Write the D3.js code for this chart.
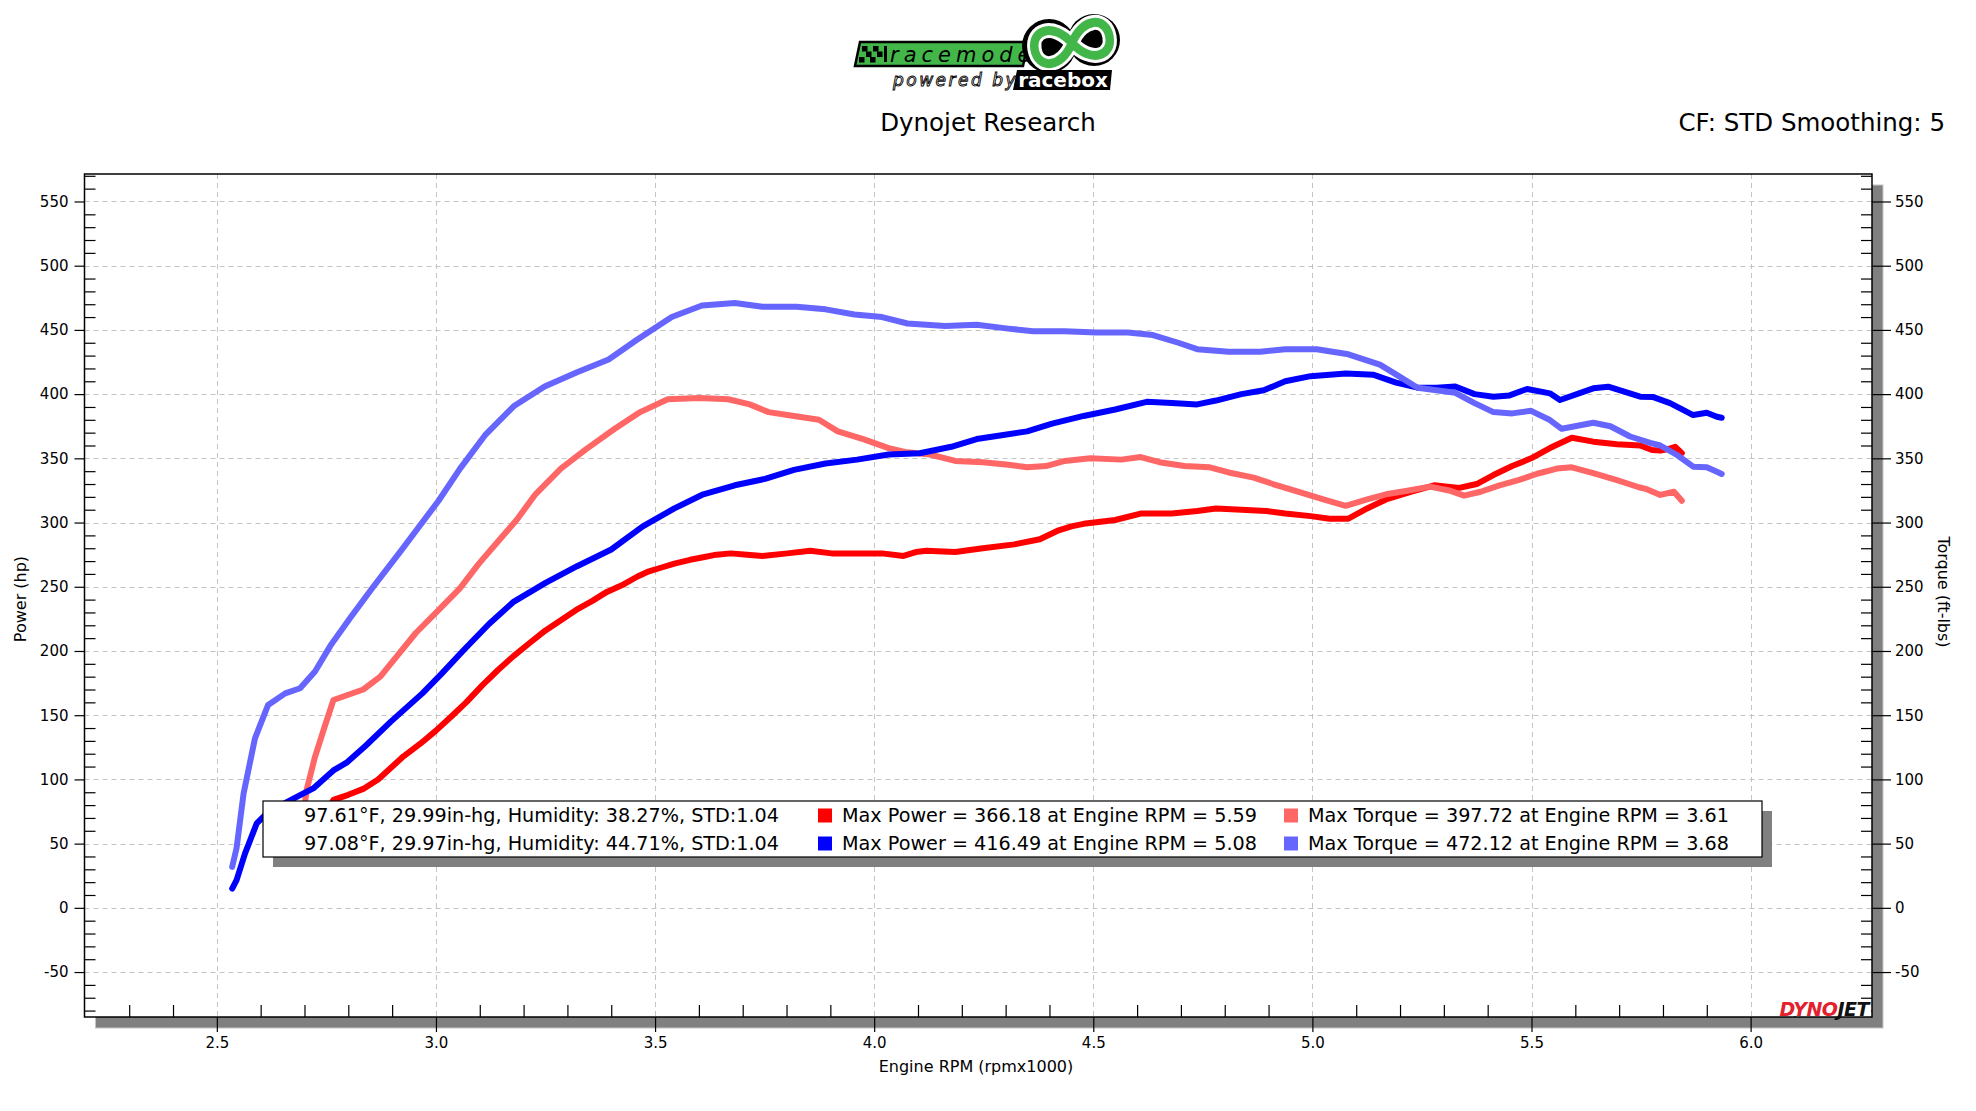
<!DOCTYPE html>
<html>
<head>
<meta charset="utf-8">
<script src="https://cdn.jsdelivr.net/npm/d3@7"></script>
<style>
body { margin: 0; background: #fff; }
svg text { font-family: "DejaVu Sans", sans-serif; fill: #000; }
</style>
</head>
<body>
<div id="chart"></div>
<script>
const width = 1976;
const height = 1111;

// tick values
const xMajor = [2.5, 3.0, 3.5, 4.0, 4.5, 5.0, 5.5, 6.0];
const xMinor = [2.3, 2.4, 2.6, 2.7, 2.8, 2.9, 3.1, 3.2, 3.3, 3.4, 3.6, 3.7, 3.8, 3.9, 4.1, 4.2, 4.3, 4.4,
                4.6, 4.7, 4.8, 4.9, 5.1, 5.2, 5.3, 5.4, 5.6, 5.7, 5.8, 5.9, 6.1, 6.2];
const yMajor = [-50, 0, 50, 100, 150, 200, 250, 300, 350, 400, 450, 500, 550];
const yMinor = d3.range(-80, 571, 10).filter(v => v % 50 !== 0);

// run 1 (red) - [rpm x1000, value]
const run1Power = [
  [2.699, 39], [2.72, 55], [2.745, 72], [2.766, 84], [2.80, 88], [2.834, 92.6], [2.868, 100],
  [2.926, 118], [2.965, 128], [3.0, 138], [3.035, 149], [3.069, 160], [3.105, 173], [3.141, 185],
  [3.177, 196], [3.213, 206], [3.25, 216], [3.285, 224], [3.32, 232], [3.357, 239], [3.39, 246],
  [3.429, 252], [3.46, 258], [3.486, 262], [3.515, 265], [3.544, 268], [3.58, 271], [3.61, 273],
  [3.64, 275], [3.673, 276], [3.71, 275], [3.745, 274], [3.802, 276], [3.854, 278], [3.903, 276],
  [3.961, 276], [4.018, 276], [4.067, 274], [4.095, 277], [4.119, 278], [4.185, 277], [4.248, 280],
  [4.32, 283], [4.378, 287], [4.421, 294], [4.45, 297], [4.478, 299], [4.55, 302], [4.608, 307],
  [4.679, 307], [4.737, 309], [4.78, 311], [4.838, 310], [4.895, 309], [4.938, 307], [4.996, 305],
  [5.039, 303], [5.082, 303], [5.125, 311], [5.168, 318], [5.226, 324], [5.278, 329], [5.335, 327],
  [5.375, 330], [5.413, 337], [5.456, 344], [5.499, 350], [5.542, 358], [5.592, 366], [5.641, 363],
  [5.695, 361], [5.748, 360], [5.775, 356.5], [5.794, 356], [5.81, 357], [5.828, 359], [5.843, 354]
];
const run1Torque = [
  [2.699, 76], [2.705, 92], [2.724, 117.6], [2.745, 140], [2.766, 161.8], [2.834, 170], [2.873, 180],
  [2.911, 196], [2.954, 214], [3.012, 234], [3.055, 249], [3.098, 268], [3.141, 285], [3.184, 302],
  [3.227, 322], [3.285, 342], [3.342, 357], [3.408, 373], [3.466, 386], [3.529, 396], [3.601, 397],
  [3.667, 396], [3.716, 392], [3.759, 386], [3.817, 383], [3.874, 380], [3.917, 371], [3.975, 365],
  [4.033, 358], [4.07, 355], [4.127, 353], [4.185, 348], [4.248, 347], [4.306, 345], [4.349, 343],
  [4.392, 344], [4.435, 348], [4.493, 350], [4.564, 349], [4.608, 351], [4.651, 347], [4.708, 344],
  [4.766, 343], [4.809, 339], [4.866, 335], [4.91, 330], [4.967, 324], [5.025, 318], [5.076, 313],
  [5.125, 318], [5.168, 322], [5.22, 325], [5.268, 328], [5.312, 325], [5.346, 321], [5.384, 324],
  [5.427, 329], [5.47, 333], [5.513, 338], [5.558, 342], [5.592, 343], [5.641, 338.5], [5.695, 333],
  [5.745, 327.5], [5.763, 326], [5.794, 321.5], [5.825, 324], [5.843, 317]
];

// run 2 (blue)
const run2Power = [
  [2.535, 15], [2.545, 21.6], [2.564, 42], [2.591, 65.7], [2.614, 73.5], [2.652, 81], [2.69, 87.8],
  [2.72, 93], [2.766, 107], [2.796, 113], [2.839, 126], [2.897, 145], [2.969, 167], [3.012, 182],
  [3.064, 201], [3.121, 221], [3.176, 238], [3.25, 253], [3.322, 266], [3.4, 279], [3.472, 297],
  [3.544, 311], [3.61, 322], [3.682, 329], [3.751, 334], [3.817, 341], [3.889, 346], [3.961, 349],
  [4.033, 353], [4.104, 354], [4.176, 359], [4.234, 365], [4.291, 368], [4.349, 371], [4.406, 377],
  [4.478, 383], [4.55, 388], [4.622, 394], [4.679, 393], [4.737, 392], [4.78, 395], [4.838, 400],
  [4.889, 403], [4.938, 410], [4.996, 414], [5.076, 416], [5.14, 415], [5.191, 409], [5.24, 405],
  [5.283, 405], [5.326, 406], [5.37, 400], [5.413, 398], [5.45, 399], [5.49, 404], [5.542, 400.6],
  [5.565, 395.4], [5.641, 404.5], [5.675, 405.8], [5.748, 398], [5.778, 397.7], [5.816, 393],
  [5.869, 383.7], [5.9, 385.5], [5.923, 382.4], [5.934, 381.6]
];
const run2Torque = [
  [2.535, 31.9], [2.545, 46.5], [2.561, 89], [2.587, 132], [2.617, 158], [2.656, 167], [2.69, 171],
  [2.724, 184], [2.759, 204], [2.805, 226], [2.857, 250], [2.92, 278], [3.006, 317], [3.055, 342],
  [3.112, 368], [3.179, 391], [3.248, 406], [3.322, 417], [3.394, 427], [3.457, 442], [3.538, 460],
  [3.607, 469], [3.682, 471], [3.745, 468], [3.823, 468], [3.889, 466], [3.955, 462], [4.018, 460],
  [4.076, 455], [4.162, 453], [4.234, 454], [4.306, 451], [4.363, 449], [4.435, 449], [4.507, 448],
  [4.579, 448], [4.636, 446], [4.694, 440], [4.737, 435], [4.809, 433], [4.881, 433], [4.938, 435],
  [5.01, 435], [5.082, 431], [5.154, 423], [5.197, 414], [5.24, 405], [5.326, 401], [5.37, 393],
  [5.413, 386], [5.456, 385], [5.499, 387], [5.542, 379.8], [5.569, 373], [5.641, 377.7],
  [5.68, 375], [5.725, 367], [5.771, 362], [5.794, 360], [5.832, 352.6], [5.869, 343.5],
  [5.9, 343], [5.923, 339.6], [5.934, 337.8]
];

const seriesColors = ["#ff0000", "#ff6666", "#0000ff", "#6666ff"];

const legendConditions = [
  "97.61°F, 29.99in-hg, Humidity: 38.27%, STD:1.04",
  "97.08°F, 29.97in-hg, Humidity: 44.71%, STD:1.04"
];
const legendPower = [
  "Max Power = 366.18 at Engine RPM = 5.59",
  "Max Power = 416.49 at Engine RPM = 5.08"
];
const legendTorque = [
  "Max Torque = 397.72 at Engine RPM = 3.61",
  "Max Torque = 472.12 at Engine RPM = 3.68"
];

const plot = {left: 84.5, right: 1872, top: 174, bottom: 1017};

const svg = d3.select("#chart").append("svg")
    .attr("width", width)
    .attr("height", height);

const x = d3.scaleLinear().domain([2.198, 6.277]).range([plot.left, plot.right]);
const y = d3.scaleLinear().domain([-85, 571.4]).range([plot.bottom, plot.top]);

// drop shadow + plot background
svg.append("rect")
    .attr("x", plot.left + 11).attr("y", plot.top + 11)
    .attr("width", plot.right - plot.left).attr("height", plot.bottom - plot.top)
    .attr("fill", "#808080").attr("stroke", "#c4c4c4").attr("stroke-width", 1);
svg.append("rect")
    .attr("x", plot.left).attr("y", plot.top)
    .attr("width", plot.right - plot.left).attr("height", plot.bottom - plot.top)
    .attr("fill", "#fff");

// grid
const grid = svg.append("g")
    .attr("stroke", "#c4c4c4")
    .attr("stroke-width", 1)
    .attr("stroke-dasharray", "5,4");
grid.selectAll(".hg").data(yMajor).join("line")
    .attr("class", "hg")
    .attr("x1", plot.left).attr("x2", plot.right)
    .attr("y1", d => Math.round(y(d)) + 0.5).attr("y2", d => Math.round(y(d)) + 0.5);
grid.selectAll(".vg").data(xMajor).join("line")
    .attr("class", "vg")
    .attr("y1", plot.top).attr("y2", plot.bottom)
    .attr("x1", d => Math.round(x(d)) + 0.5).attr("x2", d => Math.round(x(d)) + 0.5);

// curves
svg.append("clipPath").attr("id", "clip")
  .append("rect")
    .attr("x", plot.left).attr("y", plot.top)
    .attr("width", plot.right - plot.left).attr("height", plot.bottom - plot.top);

const line = d3.line().x(d => x(d[0])).y(d => y(d[1]));

svg.append("g")
    .attr("clip-path", "url(#clip)")
  .selectAll("path")
  .data([run1Power, run1Torque, run2Power, run2Torque])
  .join("path")
    .attr("d", line)
    .attr("fill", "none")
    .attr("stroke", (d, i) => seriesColors[i])
    .attr("stroke-width", 6)
    .attr("stroke-linejoin", "round")
    .attr("stroke-linecap", "round");

// frame
svg.append("rect")
    .attr("x", plot.left).attr("y", plot.top)
    .attr("width", plot.right - plot.left).attr("height", plot.bottom - plot.top)
    .attr("fill", "none").attr("stroke", "#000").attr("stroke-width", 1.5);

// axes
function styleAxis(g) {
    g.select(".domain").remove();
    g.selectAll(".tick line").attr("stroke", "#000").attr("stroke-width", 1.2);
    g.selectAll(".tick text")
        .attr("font-family", "DejaVu Sans")
        .attr("font-size", 15)
        .attr("fill", "#000");
}

svg.append("g").attr("transform", `translate(${plot.left},0)`)
    .call(d3.axisLeft(y).tickValues(yMajor).tickSize(10).tickPadding(6).tickFormat(d => String(d)))
    .call(styleAxis);
svg.append("g").attr("transform", `translate(${plot.left},0)`)
    .call(d3.axisLeft(y).tickValues(yMinor).tickSize(-11).tickFormat(""))
    .call(styleAxis);

svg.append("g").attr("transform", `translate(${plot.right},0)`)
    .call(d3.axisRight(y).tickValues(yMajor).tickSize(19).tickPadding(4).tickFormat(d => String(d)))
    .call(styleAxis);
svg.append("g").attr("transform", `translate(${plot.right},0)`)
    .call(d3.axisRight(y).tickValues(yMinor).tickSize(-11).tickFormat(""))
    .call(styleAxis);

svg.append("g").attr("transform", `translate(0,${plot.bottom})`)
    .call(d3.axisBottom(x).tickValues(xMajor).tickSize(15).tickPadding(5).tickFormat(d3.format(".1f")))
    .call(styleAxis);
svg.append("g").attr("transform", `translate(0,${plot.bottom})`)
    .call(d3.axisBottom(x).tickValues(xMinor).tickSize(-12).tickFormat(""))
    .call(styleAxis);

// axis titles
svg.append("text")
    .attr("x", 976).attr("y", 1072)
    .attr("text-anchor", "middle")
    .attr("font-size", 16)
    .text("Engine RPM (rpmx1000)");
svg.append("text")
    .attr("transform", "translate(26,599) rotate(-90)")
    .attr("text-anchor", "middle")
    .attr("font-size", 16)
    .text("Power (hp)");
svg.append("text")
    .attr("transform", "translate(1938,592) rotate(90)")
    .attr("text-anchor", "middle")
    .attr("font-size", 16)
    .text("Torque (ft-lbs)");

// titles
svg.append("text")
    .attr("x", 988).attr("y", 131)
    .attr("text-anchor", "middle")
    .attr("font-size", 24.5)
    .text("Dynojet Research");
svg.append("text")
    .attr("x", 1945).attr("y", 131)
    .attr("text-anchor", "end")
    .attr("font-size", 24.5)
    .text("CF: STD Smoothing: 5");

// legend
const lg = {x: 263, y: 801, w: 1499, h: 56};
svg.append("rect")
    .attr("x", lg.x + 10).attr("y", lg.y + 10)
    .attr("width", lg.w).attr("height", lg.h)
    .attr("fill", "#808080");
svg.append("rect")
    .attr("x", lg.x).attr("y", lg.y)
    .attr("width", lg.w).attr("height", lg.h)
    .attr("fill", "#fff").attr("stroke", "#000").attr("stroke-width", 1.2);

const rowY = [815.5, 843.5];
const legend = svg.append("g").attr("font-size", 19.2);
legend.selectAll(".cond").data(legendConditions).join("text")
    .attr("x", 304).attr("y", (d, i) => rowY[i]).attr("dy", "0.36em")
    .text(d => d);
legend.selectAll(".pw").data(legendPower).join("text")
    .attr("x", 842).attr("y", (d, i) => rowY[i]).attr("dy", "0.36em")
    .text(d => d);
legend.selectAll(".tq").data(legendTorque).join("text")
    .attr("x", 1308).attr("y", (d, i) => rowY[i]).attr("dy", "0.36em")
    .text(d => d);
legend.selectAll(".sqp").data(legendPower).join("rect")
    .attr("x", 818).attr("y", (d, i) => rowY[i] - 7)
    .attr("width", 14).attr("height", 14)
    .attr("fill", (d, i) => seriesColors[i * 2]);
legend.selectAll(".sqt").data(legendTorque).join("rect")
    .attr("x", 1284).attr("y", (d, i) => rowY[i] - 7)
    .attr("width", 14).attr("height", 14)
    .attr("fill", (d, i) => seriesColors[i * 2 + 1]);

// dynojet mark, bottom right
const dj = svg.append("g");
dj.append("rect").attr("x", 1772).attr("y", 1000).attr("width", 99).attr("height", 16).attr("fill", "#fff");
const djText = dj.append("text")
    .attr("x", 1869).attr("y", 1016)
    .attr("text-anchor", "end")
    .attr("font-family", "DejaVu Sans Condensed")
    .attr("font-weight", "bold")
    .attr("font-style", "italic")
    .attr("font-size", 19)
    .attr("letter-spacing", -0.5);
djText.append("tspan").style("fill", "#e3202c").text("DYNO");
djText.append("tspan").style("fill", "#111").text("JET");

// racemode logo, top centre
const logo = svg.append("g");
logo.append("path")
    .attr("d", "M860,42 L1028,42 L1023,66 L855,66 Z")
    .attr("fill", "#43b649").attr("stroke", "#000").attr("stroke-width", 2.5);
const checks = [[0, 0], [1, 1], [2, 0], [3, 1], [0, 2], [2, 2]];
logo.selectAll(".chk").data(checks).join("rect")
    .attr("x", d => 862 + d[0] * 5.5 - d[1] * 1.5)
    .attr("y", d => 46 + d[1] * 5.5)
    .attr("width", 5.5).attr("height", 5.5)
    .attr("fill", "#000");
logo.append("rect").attr("x", 884).attr("y", 46).attr("width", 3).attr("height", 16).attr("fill", "#000");
logo.append("text")
    .attr("x", 890).attr("y", 62)
    .attr("font-family", "DejaVu Sans Condensed")
    .attr("font-style", "italic")
    .attr("font-size", 21)
    .attr("letter-spacing", 5)
    .style("fill", "#000")
    .text("racemode");
logo.append("circle").attr("cx", 1049).attr("cy", 46).attr("r", 27).attr("fill", "#000");
logo.append("circle").attr("cx", 1094).attr("cy", 40).attr("r", 26).attr("fill", "#000");
const inf = "M0,0 C16,-24 40,-20 40,0 C40,20 16,24 0,0 C-16,-24 -40,-20 -40,0 C-40,20 -16,24 0,0 Z";
logo.append("path").attr("d", inf)
    .attr("transform", "translate(1072,43) rotate(-10) scale(0.95,1)")
    .attr("fill", "none").attr("stroke", "#fff").attr("stroke-width", 15);
logo.append("path").attr("d", inf)
    .attr("transform", "translate(1072,43) rotate(-10) scale(0.95,1)")
    .attr("fill", "none").attr("stroke", "#43b649").attr("stroke-width", 9);
logo.append("text")
    .attr("x", 893).attr("y", 86)
    .attr("font-family", "DejaVu Sans Condensed")
    .attr("font-style", "italic")
    .attr("font-size", 17)
    .attr("letter-spacing", 2.5)
    .style("fill", "#fff")
    .attr("stroke", "#000").attr("stroke-width", 0.9)
    .text("powered by");
logo.append("path")
    .attr("d", "M1017,70 L1112,70 L1110,90 L1013,90 Z")
    .attr("fill", "#000");
logo.append("text")
    .attr("x", 1063).attr("y", 87)
    .attr("text-anchor", "middle")
    .attr("font-family", "DejaVu Sans Condensed")
    .attr("font-weight", "bold")
    .attr("font-size", 20)
    .style("fill", "#fff")
    .text("racebox");
</script>
</body>
</html>
